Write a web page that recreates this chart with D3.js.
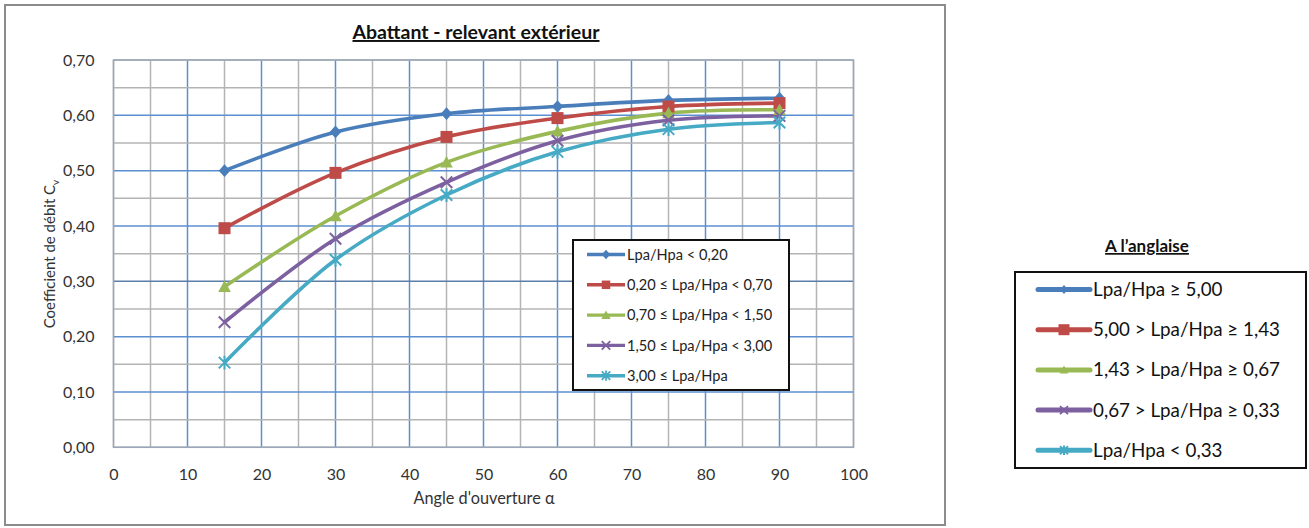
<!DOCTYPE html>
<html><head><meta charset="utf-8">
<script src="https://cdn.jsdelivr.net/npm/d3@7"></script>
<style>
body{margin:0;background:#fff;}
svg{display:block;font-family:Lato, "Open Sans", sans-serif;}
</style></head>
<body><svg id="c" width="1309" height="528"></svg>
<script>
const angles = [15, 30, 45, 60, 75, 90];
const seriesA = [0.500, 0.570, 0.603, 0.616, 0.627, 0.631];
const seriesB = [0.396, 0.496, 0.561, 0.595, 0.616, 0.622];
const seriesC = [0.290, 0.418, 0.515, 0.571, 0.604, 0.610];
const seriesD = [0.226, 0.377, 0.479, 0.554, 0.591, 0.599];
const seriesE = [0.153, 0.339, 0.456, 0.534, 0.575, 0.587];
const labelsInner = ["Lpa/Hpa < 0,20", "0,20 ≤ Lpa/Hpa < 0,70", "0,70 ≤ Lpa/Hpa < 1,50", "1,50 ≤ Lpa/Hpa < 3,00", "3,00 ≤ Lpa/Hpa"];
const labelsOuter = ["Lpa/Hpa ≥ 5,00", "5,00 > Lpa/Hpa ≥ 1,43", "1,43 > Lpa/Hpa ≥ 0,67", "0,67 > Lpa/Hpa ≥ 0,33", "Lpa/Hpa < 0,33"];
const xTicks = [0, 10, 20, 30, 40, 50, 60, 70, 80, 90, 100];
const yTicks = [0, 0.1, 0.2, 0.3, 0.4, 0.5, 0.6, 0.7];
const colors = ["#4A7EBB", "#BE4B48", "#98B954", "#7D60A0", "#46AAC5"];
const markers = ["diamond", "square", "triangle", "x", "star"];
const title = "Abattant - relevant extérieur";
const xTitle = "Angle d'ouverture α";
const outerTitle = "A l’anglaise";

const allSeries = [seriesA, seriesB, seriesC, seriesD, seriesE];
const svg = d3.select("#c");
const fmt = v => d3.format(".2f")(v).replace(".", ",");

// chart frame
svg.append("rect").attr("x", 5).attr("y", 5).attr("width", 940).attr("height", 520)
  .attr("fill", "#fff").attr("stroke", "#8c8c8c").attr("stroke-width", 2);

const L = 113.5, R = 853.5, T = 60, B = 447.3;
const x = d3.scaleLinear().domain([0, 100]).range([L, R]);
const y = d3.scaleLinear().domain([0, 0.7]).range([B, T]);

// grid
const g = svg.append("g");
d3.range(0, 101, 5).forEach(v => {
  const major = v % 10 === 0 && v > 0 && v < 100;
  g.append("line").attr("x1", x(v)).attr("x2", x(v)).attr("y1", T).attr("y2", B)
    .attr("stroke", major ? "#5b8fd0" : "#b4b4b4").attr("stroke-width", 1.5);
});
d3.range(0, 0.701, 0.05).forEach(v => {
  const k = Math.round(v * 100);
  const major = k % 10 === 0 && k > 0 && k < 70;
  g.append("line").attr("x1", L).attr("x2", R).attr("y1", y(v)).attr("y2", y(v))
    .attr("stroke", major ? (k === 30 ? "#5a7ea8" : "#5b8fd0") : "#b4b4b4").attr("stroke-width", 1.5);
});
g.append("rect").attr("x", L).attr("y", T).attr("width", R - L).attr("height", B - T)
  .attr("fill", "none").attr("stroke", "#9aa7b8").attr("stroke-width", 1.5);

// axes (labels only)
const xa = svg.append("g").attr("transform", `translate(0,${B + 30})`)
  .call(d3.axisBottom(x).tickValues(xTicks).tickSize(0).tickFormat(d3.format("d")));
xa.select(".domain").remove();
xa.selectAll("text").attr("font-size", 16).attr("fill", "#333").attr("font-family", "Lato, sans-serif").attr("dy", "0");
const ya = svg.append("g").attr("transform", `translate(${L - 16},0)`)
  .call(d3.axisLeft(y).tickValues(yTicks).tickSize(0).tickFormat(fmt));
ya.select(".domain").remove();
ya.selectAll("text").attr("font-size", 16).attr("fill", "#333").attr("font-family", "Lato, sans-serif");

// titles
svg.append("text").attr("x", 476).attr("y", 39).attr("text-anchor", "middle")
  .attr("font-size", 19.5).attr("font-weight", "bold").attr("text-decoration", "underline")
  .attr("fill", "#111").text(title);
svg.append("text").attr("x", 484).attr("y", 504).attr("text-anchor", "middle")
  .attr("font-size", 16.3).attr("fill", "#333").text(xTitle);
const yt = svg.append("text").attr("transform", "translate(55,254) rotate(-90)")
  .attr("text-anchor", "middle").attr("font-size", 15).attr("fill", "#333");
yt.append("tspan").text("Coefficient  de débit C");
yt.append("tspan").attr("font-size", 10).attr("dy", 4).text("v");

// marker drawing
function drawMarker(sel, type, color, s, sw) {
  const h = s / 2;
  if (type === "diamond") {
    sel.append("path").attr("d", `M0,${-h * 1.1}L${h},0L0,${h * 1.1}L${-h},0Z`).attr("fill", color);
  } else if (type === "square") {
    sel.append("rect").attr("x", -h).attr("y", -h).attr("width", s).attr("height", s).attr("fill", color);
  } else if (type === "triangle") {
    sel.append("path").attr("d", `M0,${-h * 1.1}L${h * 1.1},${h * 0.9}L${-h * 1.1},${h * 0.9}Z`).attr("fill", color);
  } else if (type === "x") {
    sel.append("path").attr("d", `M${-h},${-h}L${h},${h}M${-h},${h}L${h},${-h}`)
      .attr("stroke", color).attr("stroke-width", sw).attr("fill", "none");
  } else {
    sel.append("path").attr("d", `M${-h},${-h}L${h},${h}M${-h},${h}L${h},${-h}M0,${-h * 1.2}L0,${h * 1.2}`)
      .attr("stroke", color).attr("stroke-width", sw).attr("fill", "none");
  }
}

// lines
const line = d3.line().x(d => x(d[0])).y(d => y(d[1])).curve(d3.curveCatmullRom.alpha(0.5));
allSeries.forEach((s, i) => {
  const pts = angles.map((a, j) => [a, s[j]]);
  svg.append("path").datum(pts).attr("d", line).attr("fill", "none")
    .attr("stroke", colors[i]).attr("stroke-width", 3.6).attr("stroke-linejoin", "round");
});
allSeries.forEach((s, i) => {
  angles.forEach((a, j) => {
    const m = svg.append("g").attr("transform", `translate(${x(a)},${y(s[j])})`);
    drawMarker(m, markers[i], colors[i], i === 1 ? 12 : 11.5, 2);
  });
});

// inner legend
const lg = svg.append("g");
lg.append("rect").attr("x", 573).attr("y", 240).attr("width", 216).attr("height", 150)
  .attr("fill", "#fff").attr("stroke", "#111").attr("stroke-width", 2);
labelsInner.forEach((t, i) => {
  const cy = 254.5 + i * 30.3;
  lg.append("line").attr("x1", 587).attr("x2", 625).attr("y1", cy).attr("y2", cy)
    .attr("stroke", colors[i]).attr("stroke-width", 3.4);
  const m = lg.append("g").attr("transform", `translate(606,${cy})`);
  drawMarker(m, markers[i], colors[i], 8.5, 1.8);
  lg.append("text").attr("x", 627).attr("y", cy).attr("dy", "0.35em")
    .attr("font-size", 14.6).attr("fill", "#222").text(t);
});

// outer title & legend
svg.append("text").attr("x", 1147).attr("y", 252).attr("text-anchor", "middle")
  .attr("font-size", 17).attr("font-weight", "bold").attr("text-decoration", "underline")
  .attr("fill", "#111").text(outerTitle);
const og = svg.append("g");
og.append("rect").attr("x", 1015).attr("y", 272).attr("width", 291).attr("height", 196)
  .attr("fill", "#fff").attr("stroke", "#111").attr("stroke-width", 2);
labelsOuter.forEach((t, i) => {
  const cy = 289.5 + i * 40.2;
  og.append("line").attr("x1", 1038).attr("x2", 1090).attr("y1", cy).attr("y2", cy)
    .attr("stroke", colors[i]).attr("stroke-width", 5).attr("stroke-linecap", "round");
  const m = og.append("g").attr("transform", `translate(1064,${cy})`);
  drawMarker(m, markers[i], colors[i], i === 1 ? 11 : 8, 2);
  og.append("text").attr("x", 1093).attr("y", cy).attr("dy", "0.35em")
    .attr("font-size", 18.8).attr("fill", "#111").text(t);
});
</script></body></html>
